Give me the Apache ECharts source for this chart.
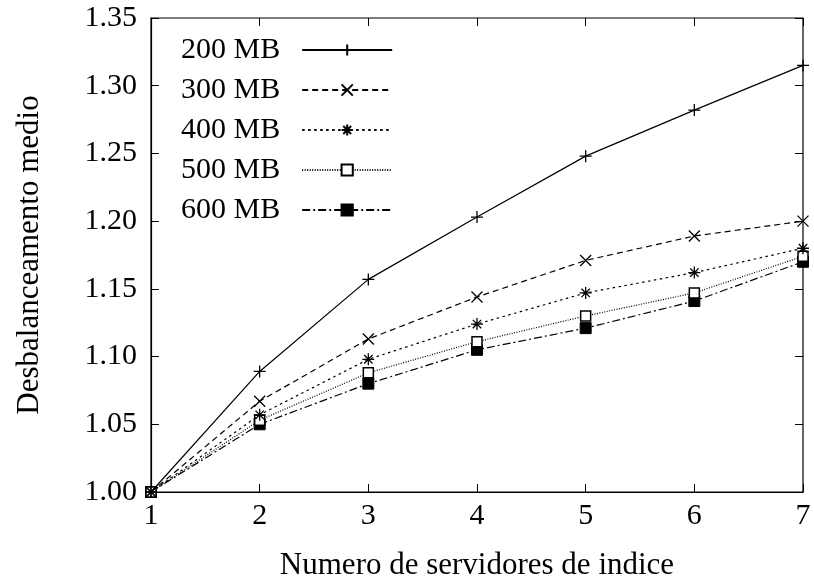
<!DOCTYPE html>
<html>
<head>
<meta charset="utf-8">
<script src="https://cdn.jsdelivr.net/npm/echarts@6/dist/echarts.min.js"></script>
<style>html,body{margin:0;padding:0;background:#fff}#c{width:814px;height:587px}</style>
</head>
<body>
<div id="c"></div>
<script>
const xValues = [1, 2, 3, 4, 5, 6, 7];
const seriesNames = ['200 MB', '300 MB', '400 MB', '500 MB', '600 MB'];
const s200 = [1.000, 1.089, 1.157, 1.203, 1.248, 1.282, 1.315];
const s300 = [1.000, 1.067, 1.113, 1.144, 1.171, 1.189, 1.200];
const s400 = [1.000, 1.057, 1.098, 1.124, 1.147, 1.162, 1.180];
const s500 = [1.000, 1.053, 1.088, 1.111, 1.130, 1.147, 1.174];
const s600 = [1.000, 1.050, 1.080, 1.105, 1.121, 1.141, 1.170];
const allValues = [s200, s300, s400, s500, s600];

const FONT = 'Liberation Serif';
const plusPath = 'path://M5,0 L5,10 M0,5 L10,5';
const crossPath = 'path://M0,0 L10,10 M10,0 L0,10';
const starPath = 'path://M5,0 L5,10 M0,5 L10,5 M1.5,1.5 L8.5,8.5 M8.5,1.5 L1.5,8.5';

const styles = [
  {symbol: plusPath, size: 12, dash: 'solid', fill: 'none', bw: 1.3},
  {symbol: crossPath, size: 11, dash: [6, 4], fill: 'none', bw: 1.3},
  {symbol: starPath, size: 12, dash: [2.5, 3.5], fill: 'none', bw: 1.3},
  {symbol: 'rect', size: 10, dash: [1, 1.5], fill: '#fff', bw: 1.5},
  {symbol: 'rect', size: 11, dash: [8, 3, 2, 3], fill: '#000', bw: 1}
];

const series = seriesNames.map((name, i) => ({
  name: name,
  type: 'line',
  data: xValues.map((x, j) => [x, allValues[i][j]]),
  symbol: styles[i].symbol,
  symbolSize: styles[i].size,
  showAllSymbol: true,
  clip: false,
  lineStyle: {color: '#000', width: 1.2, type: styles[i].dash},
  itemStyle: {color: styles[i].fill, borderColor: '#000', borderWidth: styles[i].bw},
  emphasis: {disabled: true},
  z: 10 - i
}));

const chart = echarts.init(document.getElementById('c'), null, {renderer: 'canvas'});
chart.setOption({
  animation: false,
  backgroundColor: '#fff',
  textStyle: {fontFamily: FONT},
  grid: {left: 151, right: 11, top: 18, bottom: 95, show: true, borderColor: '#000', borderWidth: 1.2, backgroundColor: 'transparent'},
  legend: {
    left: 176, top: 30, orient: 'vertical', align: 'right',
    itemWidth: 90, itemHeight: 14, itemGap: 10,
    textStyle: {fontFamily: FONT, fontSize: 30, color: '#000', padding: [0, 17, 0, 0]},
    data: seriesNames
  },
  xAxis: [{
    type: 'value', min: 1, max: 7, interval: 1,
    name: 'Numero de servidores de indice', nameLocation: 'middle', nameGap: 58,
    nameTextStyle: {fontFamily: FONT, fontSize: 31, color: '#000'},
    axisLine: {lineStyle: {color: '#000', width: 1.2}},
    axisTick: {inside: true, length: 8, lineStyle: {color: '#000'}},
    axisLabel: {fontFamily: FONT, fontSize: 30, color: '#000', margin: 9},
    splitLine: {show: false}
  }, {
    type: 'value', min: 1, max: 7, interval: 1, position: 'top',
    axisLine: {show: false},
    axisTick: {inside: true, length: 8, lineStyle: {color: '#000'}},
    axisLabel: {show: false}, splitLine: {show: false}
  }],
  yAxis: [{
    type: 'value', min: 1.0, max: 1.35, interval: 0.05,
    name: 'Desbalanceamento medio', nameLocation: 'middle', nameGap: 106,
    nameTextStyle: {fontFamily: FONT, fontSize: 31, color: '#000'},
    axisLine: {show: true, lineStyle: {color: '#000', width: 1.2}},
    axisTick: {show: true, inside: true, length: 8, lineStyle: {color: '#000'}},
    axisLabel: {fontFamily: FONT, fontSize: 30, color: '#000', margin: 14, formatter: v => v.toFixed(2)},
    splitLine: {show: false}
  }, {
    type: 'value', min: 1.0, max: 1.35, interval: 0.05, position: 'right',
    axisLine: {show: false},
    axisTick: {show: true, inside: true, length: 8, lineStyle: {color: '#000'}},
    axisLabel: {show: false}, splitLine: {show: false}
  }],
  series: series
});
</script>
</body>
</html>
